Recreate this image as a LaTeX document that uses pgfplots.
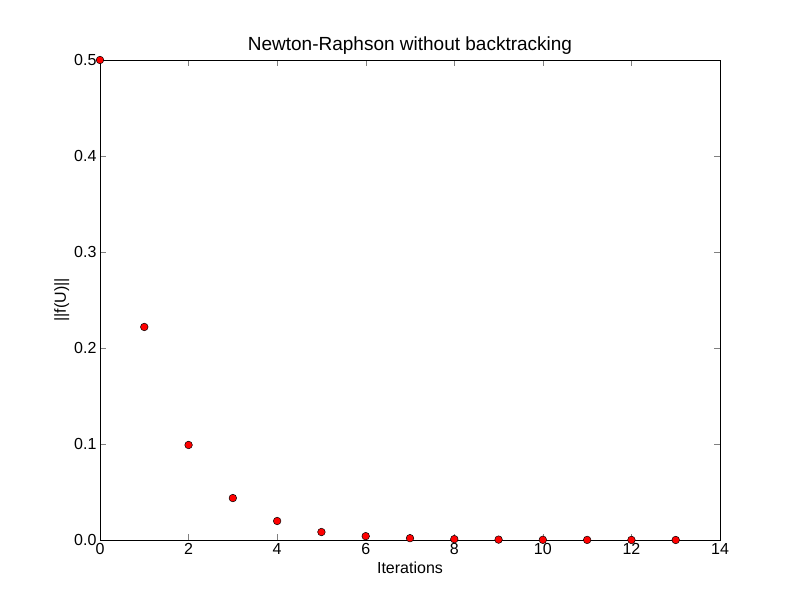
\documentclass[border=0pt]{standalone}
\usepackage{pgfplots}
\pgfplotsset{compat=1.18}
\usepackage{fontspec}
\setmainfont{Liberation Sans}
\begin{document}
\begin{tikzpicture}[x=1pt,y=1pt]
\useasboundingbox (-100,-60) rectangle (700,540);
\begin{axis}[at={(0,0)},anchor=origin,
 scale only axis, width=620pt, height=480pt,
 xmin=0,xmax=14,ymin=0,ymax=0.5,
 xtick={0,2,...,14}, ytick={0,0.1,...,0.5},
 tick align=inside, tick pos=both, major tick length=6pt,
 /pgf/number format/assume math mode=true,
 yticklabel style={/pgf/number format/.cd,fixed,fixed zerofill,precision=1},
 ticklabel style={font=\fontsize{16}{18}\selectfont},
 title={Newton-Raphson without backtracking},
 title style={font=\fontsize{19}{21}\selectfont, yshift=-4pt},
 xlabel={Iterations}, ylabel={||f(U)||},
 label style={font=\fontsize{16}{18}\selectfont},
 xlabel style={yshift=0pt}, ylabel style={yshift=-2pt},
 clip=false]
\addplot[only marks, mark=*, mark size=3.8pt, mark options={fill=red,draw=black,line width=0.5pt}] coordinates {
(0,0.5)(1,0.2219)(2,0.099)(3,0.0437)(4,0.0198)(5,0.0083)(6,0.0040)(7,0.0019)(8,0.0009)(9,0.0004)(10,0.0002)(11,0.0001)(12,0.00005)(13,0.00002)};
\end{axis}
\end{tikzpicture}
\end{document}
